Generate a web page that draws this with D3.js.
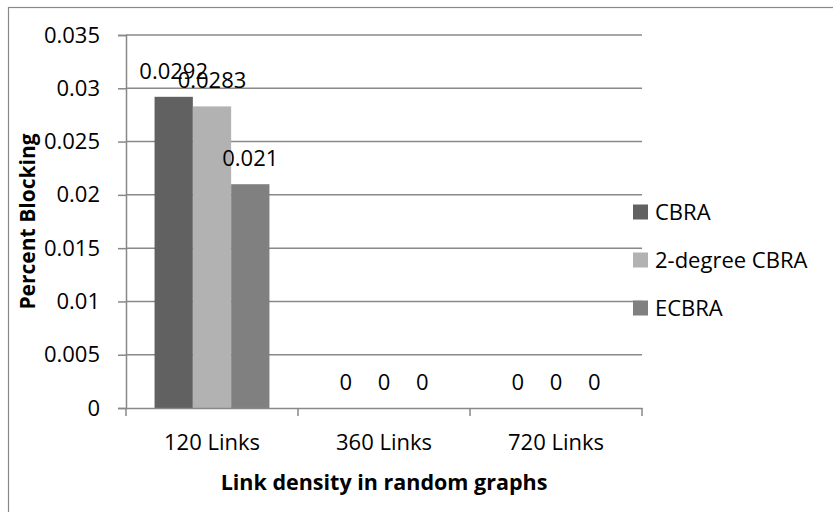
<!DOCTYPE html>
<html>
<head>
<meta charset="utf-8">
<script src="https://cdn.jsdelivr.net/npm/d3@7"></script>
<style>
  html, body { margin: 0; padding: 0; background: #fff; }
  svg text { font-family: "Open Sans", Lato, sans-serif; fill: #000; }
</style>
</head>
<body>
<svg id="chart" width="833" height="512"></svg>
<script>
// Blocking rate per link density, three routing algorithms
const categories = ["120 Links", "360 Links", "720 Links"];
const seriesNames = ["CBRA", "2-degree CBRA", "ECBRA"];
const cbra = [0.0292, 0, 0];
const cbra2deg = [0.0283, 0, 0];
const ecbra = [0.021, 0, 0];
const yTicks = [0, 0.005, 0.01, 0.015, 0.02, 0.025, 0.03, 0.035];
const seriesColors = ["#616161", "#b2b2b2", "#808080"];

const seriesValues = [cbra, cbra2deg, ecbra];

const svg = d3.select("#chart");
const plot = { left: 126, right: 642, top: 35, bottom: 408 };
const gridColor = "#888888";

// outer chart frame (top and left edges visible)
svg.append("rect")
  .attr("x", 8.5).attr("y", 7.5)
  .attr("width", 900).attr("height", 600)
  .attr("fill", "none").attr("stroke", gridColor).attr("stroke-width", 1.2);

const y = d3.scaleLinear().domain([0, 0.035]).range([plot.bottom, plot.top]);
const x0 = d3.scaleBand().domain(categories).range([plot.left, plot.right]);
const bw = x0.bandwidth();
const x1 = d3.scaleBand().domain(seriesNames).range([bw * 0.166, bw * 0.834]);

// horizontal gridlines
svg.append("g").selectAll("line")
  .data(yTicks.filter(t => t > 0))
  .join("line")
  .attr("x1", plot.left).attr("x2", plot.right)
  .attr("y1", d => y(d)).attr("y2", d => y(d))
  .attr("stroke", gridColor).attr("stroke-width", 1.5);

// y axis
const yAxis = svg.append("g")
  .attr("transform", `translate(${plot.left},0)`)
  .call(d3.axisLeft(y).tickValues(yTicks).tickFormat(d => String(d)).tickSize(8).tickPadding(18));
yAxis.select(".domain").attr("stroke", gridColor).attr("stroke-width", 1.5);
yAxis.selectAll(".tick line").attr("stroke", gridColor).attr("stroke-width", 1.5);
yAxis.selectAll(".tick text").attr("font-size", 22).attr("font-family", "Open Sans, sans-serif").attr("fill", "#000");

// bars
const groups = svg.append("g").selectAll("g")
  .data(categories)
  .join("g")
  .attr("transform", d => `translate(${x0(d)},0)`);

groups.selectAll("rect")
  .data((d, i) => seriesNames.map((s, j) => ({ s, j, v: seriesValues[j][i] })))
  .join("rect")
  .attr("x", d => x1(d.s))
  .attr("width", x1.bandwidth())
  .attr("y", d => y(d.v))
  .attr("height", d => y(0) - y(d.v))
  .attr("fill", d => seriesColors[d.j]);

// x axis
const xAxis = svg.append("g")
  .attr("transform", `translate(0,${plot.bottom})`)
  .call(d3.axisBottom(x0).tickSize(0).tickPadding(26));
xAxis.select(".domain").attr("stroke", gridColor).attr("stroke-width", 1.5);
xAxis.selectAll(".tick text").attr("font-size", 22).attr("font-family", "Open Sans, sans-serif").attr("fill", "#000");
// category boundary ticks
svg.append("g").selectAll("line")
  .data(d3.range(categories.length + 1))
  .join("line")
  .attr("x1", i => plot.left + i * bw).attr("x2", i => plot.left + i * bw)
  .attr("y1", plot.bottom).attr("y2", plot.bottom + 8)
  .attr("stroke", gridColor).attr("stroke-width", 1.5);

// value labels
groups.selectAll("text.val")
  .data((d, i) => seriesNames.map((s, j) => ({ s, j, v: seriesValues[j][i] })))
  .join("text")
  .attr("class", "val")
  .attr("x", d => x1(d.s) + x1.bandwidth() / 2)
  .attr("y", d => y(d.v) - 18)
  .attr("text-anchor", "middle")
  .attr("font-size", 22)
  .text(d => String(d.v));

// axis titles
svg.append("text")
  .attr("x", (plot.left + plot.right) / 2).attr("y", 490)
  .attr("text-anchor", "middle").attr("font-size", 21.5).attr("font-weight", "bold")
  .text("Link density in random graphs");

svg.append("text")
  .attr("transform", `translate(35,${(plot.top + plot.bottom) / 2}) rotate(-90)`)
  .attr("text-anchor", "middle").attr("font-size", 21).attr("font-weight", "bold")
  .text("Percent Blocking");

// legend
const legend = svg.append("g").selectAll("g")
  .data(seriesNames)
  .join("g")
  .attr("transform", (d, i) => `translate(633,${212 + i * 48})`);
legend.append("rect")
  .attr("x", 0).attr("y", -7.5).attr("width", 15).attr("height", 15)
  .attr("fill", (d, i) => seriesColors[i]);
legend.append("text")
  .attr("x", 22).attr("y", 0).attr("dy", "0.35em")
  .attr("font-size", 22)
  .text(d => d);
</script>
</body>
</html>
